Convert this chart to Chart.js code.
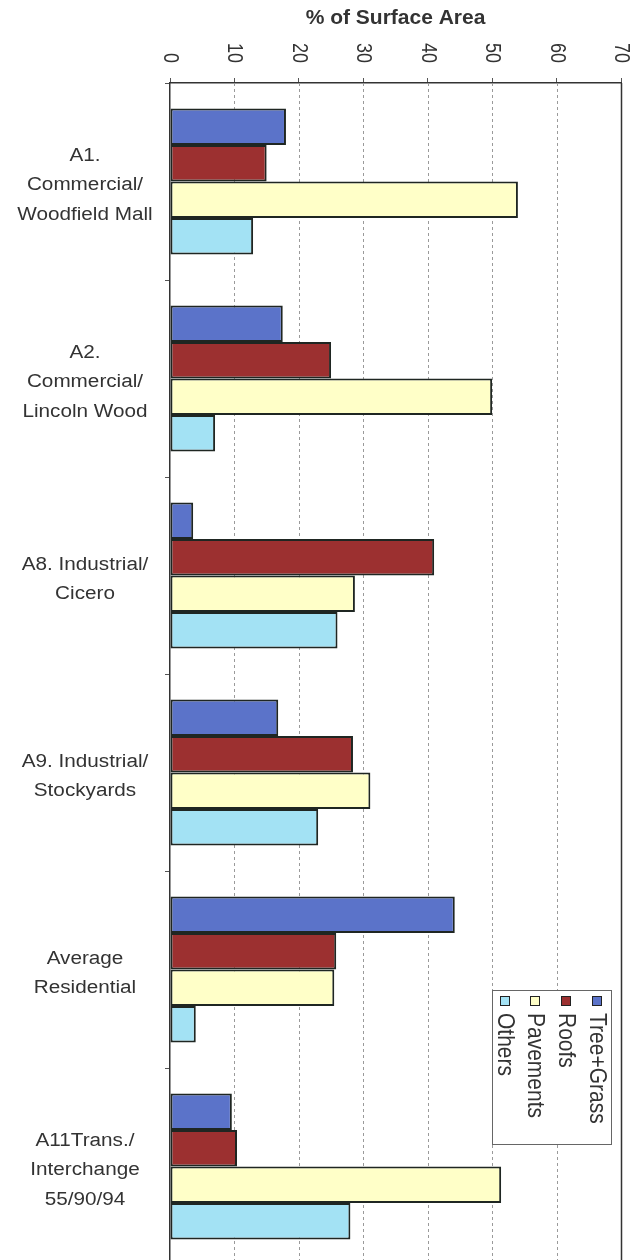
<!DOCTYPE html>
<html>
<head>
<meta charset="utf-8">
<script src="https://cdn.jsdelivr.net/npm/chart.js@4/dist/chart.umd.min.js"></script>
<style>
  html, body { margin: 0; padding: 0; background: #fff; overflow: hidden; }
  #wrap { width: 642px; height: 1260px; overflow: hidden; }
</style>
</head>
<body>
<div id="wrap"><canvas id="chart" width="642" height="1268"></canvas></div>
<script>
const categories = [
    ['A1.', 'Commercial/', 'Woodfield Mall'],
    ['A2.', 'Commercial/', 'Lincoln Wood'],
    ['A8. Industrial/', 'Cicero'],
    ['A9. Industrial/', 'Stockyards'],
    ['Average', 'Residential'],
    ['A11Trans./', 'Interchange', '55/90/94']
];
const treeGrass = [18, 17.5, 3.6, 16.8, 44.2, 9.6];
const roofs = [15, 25, 41, 28.4, 25.8, 10.4];
const pavements = [54, 50, 28.7, 31.1, 25.5, 51.4];
const others = [12.9, 7, 26, 23, 4, 28];
const xTicks = [0, 10, 20, 30, 40, 50, 60, 70];
const seriesNames = ['Tree+Grass', 'Roofs', 'Pavements', 'Others'];
const seriesColors = ['#5b73c9', '#9c3030', '#ffffc8', '#a3e2f4'];

const FONT = "'Liberation Sans', Arial, sans-serif";
const TEXT = '#333';

// grid lines, rotated tick labels, category labels and the legend are drawn here
const decorations = {
    id: 'decorations',
    beforeDatasetsDraw(chart) {
        const { ctx, chartArea } = chart;
        const xs = chart.scales.x;
        ctx.save();
        xTicks.forEach(v => {
            if (v === 0) return;
            const x = Math.round(xs.getPixelForValue(v)) + 0.5;
            ctx.beginPath();
            if (v === xTicks[xTicks.length - 1]) {
                ctx.setLineDash([]);
                ctx.strokeStyle = '#333';
                ctx.lineWidth = 1.5;
            } else {
                ctx.setLineDash([3, 3]);
                ctx.strokeStyle = '#9a9a9a';
                ctx.lineWidth = 1;
            }
            ctx.moveTo(x, chartArea.top);
            ctx.lineTo(x, chartArea.bottom);
            ctx.stroke();
        });
        ctx.restore();
    },
    afterDraw(chart) {
        const { ctx } = chart;
        const xs = chart.scales.x;
        const ys = chart.scales.y;
        ctx.save();
        ctx.fillStyle = TEXT;

        // x tick labels, turned clockwise
        ctx.font = '18px ' + FONT;
        xTicks.forEach(v => {
            ctx.save();
            ctx.translate(xs.getPixelForValue(v), 63);
            ctx.rotate(Math.PI / 2);
            ctx.scale(1, 1.2);
            ctx.textAlign = 'right';
            ctx.textBaseline = 'middle';
            ctx.fillText(String(v), 0, 0);
            ctx.restore();
        });

        // category labels
        ctx.font = '18px ' + FONT;
        ctx.textAlign = 'center';
        ctx.textBaseline = 'middle';
        const lh = 29.5;
        categories.forEach((lines, i) => {
            const cy = ys.getPixelForValue(i) + 4;
            lines.forEach((line, j) => {
                const y = cy + (j - (lines.length - 1) / 2) * lh;
                ctx.save();
                ctx.translate(85, y);
                ctx.scale(1.15, 1);
                ctx.fillText(line, 0, 0);
                ctx.restore();
            });
        });

        // legend box
        const bx = 492, by = 990, bw = 119, bh = 154;
        ctx.fillStyle = '#fff';
        ctx.fillRect(bx, by, bw, bh);
        ctx.strokeStyle = '#666';
        ctx.lineWidth = 1;
        ctx.strokeRect(bx + 0.5, by + 0.5, bw, bh);
        const cols = [597, 566, 535, 505];
        seriesNames.forEach((name, i) => {
            const x = cols[i];
            ctx.fillStyle = seriesColors[i];
            ctx.fillRect(x - 5, 996, 10, 10);
            ctx.strokeStyle = '#222';
            ctx.strokeRect(x - 5 + 0.5, 996 + 0.5, 9, 9);
            ctx.save();
            ctx.fillStyle = TEXT;
            ctx.font = '21px ' + FONT;
            ctx.translate(x, 1013);
            ctx.rotate(Math.PI / 2);
            ctx.scale(1, 1.15);
            ctx.textAlign = 'left';
            ctx.textBaseline = 'middle';
            ctx.fillText(name, 0, 0);
            ctx.restore();
        });
        ctx.restore();
    }
};

const ctx = document.getElementById('chart').getContext('2d');
new Chart(ctx, {
    type: 'bar',
    data: {
        labels: categories,
        datasets: [treeGrass, roofs, pavements, others].map((vals, i) => ({
            label: seriesNames[i],
            data: vals,
            backgroundColor: seriesColors[i],
            borderColor: '#1f2622',
            borderWidth: 2,
            borderSkipped: false,
            categoryPercentage: 0.74,
            barPercentage: 1.0
        }))
    },
    options: {
        indexAxis: 'y',
        responsive: false,
        animation: false,
        layout: { padding: { top: 0, right: 21, bottom: 3, left: 0 } },
        plugins: {
            legend: { display: false },
            tooltip: { enabled: false }
        },
        scales: {
            x: {
                position: 'top',
                min: 0,
                max: 70,
                ticks: { display: false, stepSize: 10 },
                grid: { drawOnChartArea: false, drawTicks: true, tickLength: 5, color: '#555' },
                border: { color: '#333', width: 1.5 },
                title: {
                    display: true,
                    text: '% of Surface Area',
                    color: TEXT,
                    font: { family: FONT, size: 21, weight: 'bold' },
                    padding: { top: 6, bottom: 0 }
                },
                afterFit(scale) { scale.height = 83; }
            },
            y: {
                ticks: { display: false },
                grid: { offset: true, drawOnChartArea: false, drawTicks: true, tickLength: 5, color: '#555' },
                border: { color: '#333', width: 1.5 },
                afterFit(scale) { scale.width = 170; }
            }
        }
    },
    plugins: [decorations]
});
</script>
</body>
</html>
